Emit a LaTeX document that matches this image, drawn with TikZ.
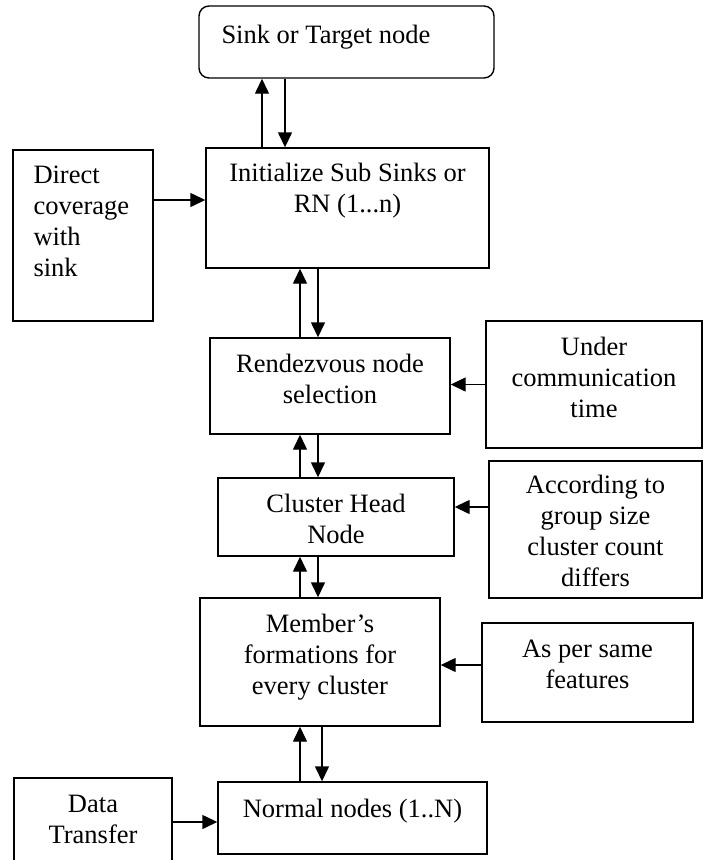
\documentclass[tikz,border=0pt]{standalone}
\usepackage{fontspec}
\setmainfont{Liberation Serif}
\usetikzlibrary{arrows.meta, positioning}

\begin{document}
\begin{tikzpicture}[x=1pt, y=-1pt,
blockbox/.style={rectangle, draw=black, line width=1.4pt, inner sep=0pt},
roundbox/.style={blockbox, rounded corners=10pt},
blocktext/.style={align=center, inner sep=0pt, font=\fontsize{26.5}{31}\selectfont},
lefttext/.style={blocktext, align=left, anchor=west},
flowarrow/.style={-{Triangle[length=15pt, width=14pt]}, line width=1.4pt},
]
\useasboundingbox (0,0) rectangle (705,860);
\clip (0,0) rectangle (705,860);
%Nodes
\node[roundbox, minimum width=295pt, minimum height=72pt,
  label={[lefttext, xshift=23pt, yshift=5pt]west:Sink or Target node}] (sink) at (346.5,42) {};
\node[blockbox, minimum width=283pt, minimum height=120pt,
  label={[blocktext, yshift=17pt]center:Initialize Sub Sinks or\\RN (1...n)}] (init) at (347.5,208) {};
\node[blockbox, minimum width=140pt, minimum height=171pt,
  label={[lefttext, xshift=21pt, yshift=14.5pt]west:Direct\\coverage\\with\\sink}] (direct) at (83,235.5) {};
\node[blockbox, minimum width=240pt, minimum height=96pt,
  label={[blocktext, yshift=7pt]center:Rendezvous node\\selection}] (rend) at (330,386) {};
\node[blockbox, minimum width=216pt, minimum height=127pt,
  label={[blocktext, yshift=7.5pt]center:Under\\communication\\time}] (under) at (594,384.5) {};
\node[blockbox, minimum width=236pt, minimum height=78pt,
  label={[blocktext, yshift=-1.5pt]center:Cluster Head\\Node}] (cluster) at (336,517) {};
\node[blockbox, minimum width=213pt, minimum height=137pt,
  label={[blocktext, yshift=-1.5pt]center:According to\\group size\\cluster count\\differs}] (accord) at (595.5,529.5) {};
\node[blockbox, minimum width=240pt, minimum height=128pt,
  label={[blocktext, yshift=4.5pt]center:Member’s\\formations for\\every cluster}] (member) at (320,662) {};
\node[blockbox, minimum width=211pt, minimum height=99pt,
  label={[blocktext, yshift=8pt]center:As per same\\features}] (asper) at (587.5,672.5) {};
\node[blockbox, minimum width=269pt, minimum height=72pt,
  label={[blocktext, yshift=6.5pt]center:Normal nodes (1..N)}] (normal) at (352.5,818) {};
\node[blockbox, minimum width=158pt, minimum height=88pt,
  label={[blocktext, yshift=2.5pt]center:Data\\Transfer}] (data) at (93,822) {};
%arrow columns and rows
\coordinate (colA) at (262,0);
\coordinate (colB) at (285,0);
\coordinate (colC) at (300,0);
\coordinate (colD) at (318,0);
\coordinate (colE) at (322,0);
\coordinate (rowA) at (0,200);
\coordinate (rowC) at (0,507);
\coordinate (rowD) at (0,665);
\path[every edge/.append style={flowarrow}]
	(init.north -| colA) edge (sink.south -| colA)
	(sink.south -| colB) edge (init.north -| colB)
	(rend.north -| colC) edge (init.south -| colC)
	(init.south -| colD) edge (rend.north -| colD)
	(cluster.north -| colC) edge (rend.south -| colC)
	(rend.south -| colD) edge (cluster.north -| colD)
	(member.north -| colC) edge (cluster.south -| colC)
	(cluster.south -| colD) edge (member.north -| colD)
	(normal.north -| colC) edge (member.south -| colC)
	(member.south -| colE) edge (normal.north -| colE)
	(direct.east |- rowA) edge (init.west |- rowA)
	(under.west) edge (rend.east |- under.west)
	(accord.west |- rowC) edge (cluster.east |- rowC)
	(asper.west |- rowD) edge (member.east |- rowD)
	(data.east) edge (normal.west |- data.east);
%	(member.south -| colE) edge [dashed] (normal.north -| colE)

\end{tikzpicture}
\end{document}
